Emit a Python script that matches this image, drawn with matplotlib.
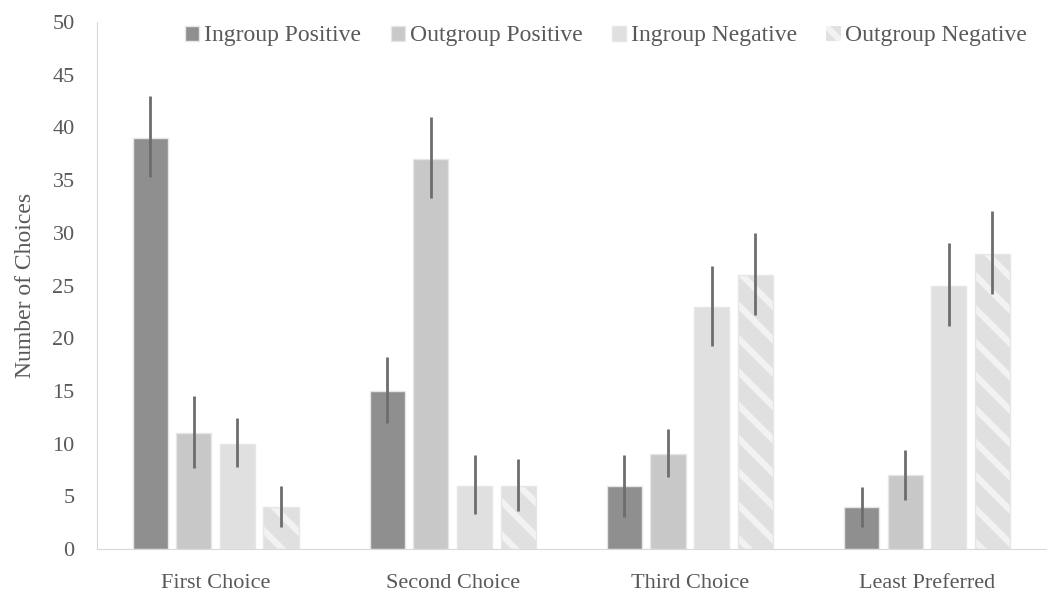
import matplotlib
matplotlib.use('Agg')
import matplotlib.pyplot as plt
import numpy as np

categories = ['First Choice', 'Second Choice', 'Third Choice', 'Least Preferred']
series = ['Ingroup Positive', 'Outgroup Positive', 'Ingroup Negative', 'Outgroup Negative']

ingroup_pos = [39, 15, 6, 4]
outgroup_pos = [11, 37, 9, 7]
ingroup_neg = [10, 6, 23, 25]
outgroup_neg = [4, 6, 26, 28]

# error bar ends (low, high)
ingroup_pos_lo = [35.3, 12.0, 3.1, 2.1]
ingroup_pos_hi = [43.0, 18.2, 8.9, 5.9]
outgroup_pos_lo = [7.7, 33.3, 6.8, 4.7]
outgroup_pos_hi = [14.5, 41.0, 11.4, 9.4]
ingroup_neg_lo = [7.8, 3.3, 19.3, 21.2]
ingroup_neg_hi = [12.4, 8.9, 26.9, 29.0]
outgroup_neg_lo = [2.1, 3.6, 22.2, 24.2]
outgroup_neg_hi = [6.0, 8.6, 30.0, 32.1]

values = [ingroup_pos, outgroup_pos, ingroup_neg, outgroup_neg]
lows = [ingroup_pos_lo, outgroup_pos_lo, ingroup_neg_lo, outgroup_neg_lo]
highs = [ingroup_pos_hi, outgroup_pos_hi, ingroup_neg_hi, outgroup_neg_hi]
colors = ['#8f8f8f', '#c8c8c8', '#e0e0e0', '#e0e0e0']
hatches = [None, None, None, '\\']

plt.rcParams['font.family'] = ['Liberation Serif', 'DejaVu Serif']
plt.rcParams['hatch.linewidth'] = 4.5
txt = '#595959'

fig = plt.figure(figsize=(10.54, 5.95), dpi=100)
ax = fig.add_axes([0.092, 0.077, 0.9, 0.886])

x = np.arange(len(categories))
w = 0.148
step = 0.184

for i in range(4):
    xs = x + (i - 1.5) * step
    v = np.array(values[i])
    err = [v - np.array(lows[i]), np.array(highs[i]) - v]
    if hatches[i]:
        ax.bar(xs, v, w, color=colors[i], edgecolor='#f2f2f2', hatch=hatches[i],
               linewidth=0, label=series[i], zorder=2)
        ax.bar(xs, v, w, fill=False, edgecolor='#e6e6e6', linewidth=1, zorder=2)
    else:
        ax.bar(xs, v, w, color=colors[i], edgecolor='#e6e6e6', linewidth=1,
               label=series[i], zorder=2)
    ax.errorbar(xs, v, yerr=err, fmt='none', ecolor='#6d6d6d', elinewidth=2,
                capsize=0, zorder=3)

ax.set_xlim(-0.5, 3.5)
ax.set_ylim(0, 50)
ax.set_yticks(range(0, 51, 5))
ax.set_xticks(x)
ax.set_xticklabels(categories)
ax.tick_params(length=0, labelsize=16, colors=txt)
ax.tick_params(axis='x', pad=18)
ax.tick_params(axis='y', pad=16)
for s in ['top', 'right']:
    ax.spines[s].set_visible(False)
ax.spines['left'].set_color('#d9d9d9')
ax.spines['bottom'].set_color('#d9d9d9')
ax.set_ylabel('Number of Choices', fontsize=17, color=txt, labelpad=12)

ax.legend(loc='upper right', bbox_to_anchor=(1.003, 1.034), ncol=4, frameon=False,
          fontsize=17, labelcolor=txt, handlelength=0.6, handleheight=0.6,
          handletextpad=0.2, columnspacing=1.25)

fig.savefig('out.png', dpi=100)
